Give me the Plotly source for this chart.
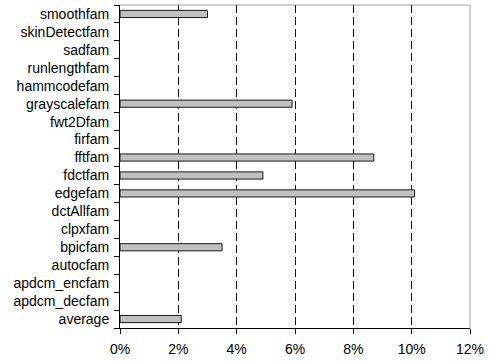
import plotly.graph_objects as go

# Per-benchmark share, in percent
families = [
    "smoothfam", "skinDetectfam", "sadfam", "runlengthfam", "hammcodefam",
    "grayscalefam", "fwt2Dfam", "firfam", "fftfam", "fdctfam", "edgefam",
    "dctAllfam", "clpxfam", "bpicfam", "autocfam", "apdcm_encfam",
    "apdcm_decfam", "average",
]
values = [3.0, 0, 0, 0, 0, 5.9, 0, 0, 8.7, 4.9, 10.1, 0, 0, 3.5, 0, 0, 0, 2.1]
x_ticks = [0, 2, 4, 6, 8, 10, 12]
x_tick_labels = ["0%", "2%", "4%", "6%", "8%", "10%", "12%"]

# Empty bars get no outline so nothing is drawn for them
outline_widths = [1 if v > 0 else 0 for v in values]

fig = go.Figure(
    go.Bar(
        x=values,
        y=families,
        orientation="h",
        marker=dict(color="#c0c0c0", line=dict(color="#1a1a1a", width=outline_widths)),
        width=0.4,
    )
)

fig.update_layout(
    width=489,
    height=362,
    margin=dict(l=120, r=15, t=5, b=34),
    paper_bgcolor="white",
    plot_bgcolor="white",
    font=dict(family="Liberation Sans, Arial, sans-serif", size=14, color="black"),
    showlegend=False,
)

fig.update_xaxes(
    range=[0, 12],
    tickvals=x_ticks,
    ticktext=x_tick_labels,
    showgrid=True,
    gridcolor="#111111",
    griddash="8px,4px",
    gridwidth=1,
    showline=True,
    linecolor="black",
    linewidth=1,
    ticks="outside",
    ticklen=5,
    tickcolor="black",
    ticklabelstandoff=3,
    zeroline=False,
)

fig.update_yaxes(
    categoryorder="array",
    categoryarray=families[::-1],
    showgrid=False,
    showline=True,
    linecolor="black",
    linewidth=1,
    ticks="outside",
    tickson="boundaries",
    ticklen=5,
    tickcolor="black",
    ticklabelstandoff=7,
)

# Light frame along the top and right of the plotting area
fig.add_shape(type="line", xref="paper", yref="paper", x0=0, x1=1, y0=1, y1=1,
              line=dict(color="#a0a0a0", width=1), layer="below")
fig.add_shape(type="line", xref="paper", yref="paper", x0=1, x1=1, y0=0, y1=1,
              line=dict(color="#a0a0a0", width=1), layer="below")

fig.write_html("out.html")
